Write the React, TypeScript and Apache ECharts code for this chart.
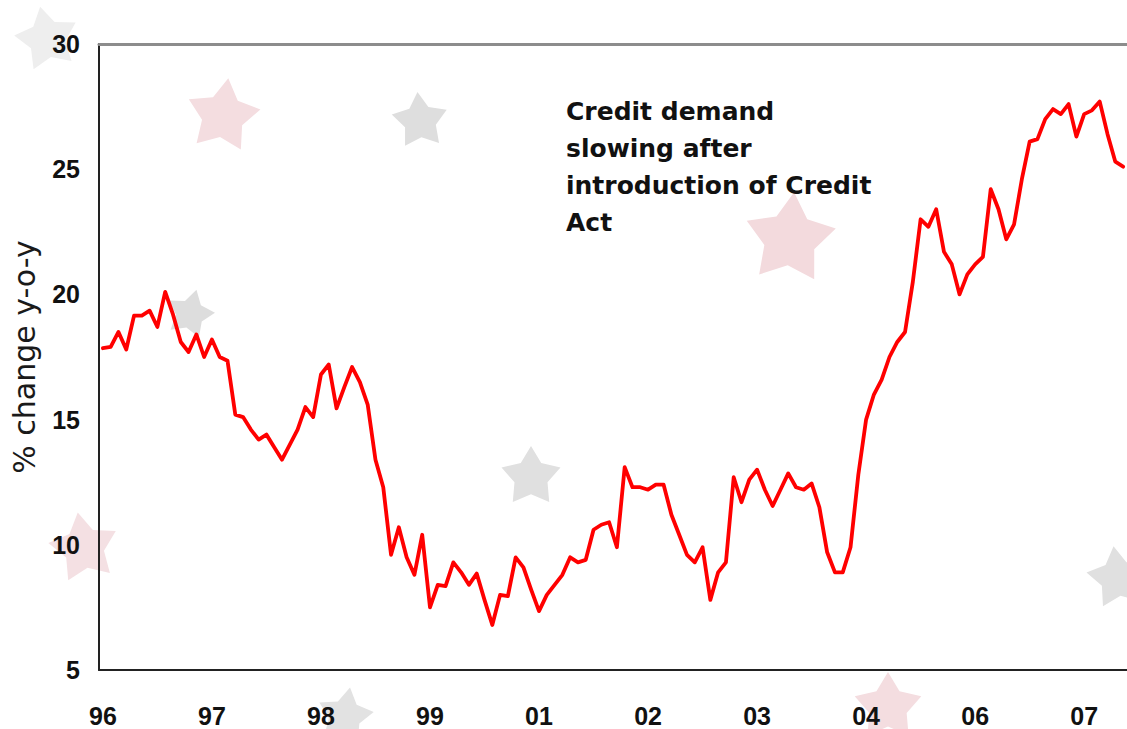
import React, { useEffect, useRef } from "react";
import * as echarts from "echarts";

// Tick labels shown along the x axis (one every 14 monthly observations)
const tickLabels = ["96", "97", "98", "99", "01", "02", "03", "04", "06", "07"];
const monthsPerTick = 14;

// Y axis ticks
const yMin = 5;
const yMax = 30;
const yStep = 5;

const creditGrowth = [
  17.85, 17.9, 18.5, 17.8, 19.15, 19.15, 19.35, 18.7, 20.1, 19.2,
  18.1, 17.7, 18.4, 17.5, 18.2, 17.5, 17.35, 15.2, 15.1, 14.6,
  14.2, 14.4, 13.9, 13.4, 14.0, 14.6, 15.5, 15.1, 16.8, 17.2,
  15.45, 16.3, 17.1, 16.5, 15.6, 13.4, 12.3, 9.6, 10.7, 9.5,
  8.8, 10.4, 7.5, 8.4, 8.35, 9.3, 8.9, 8.4, 8.85, 7.8,
  6.8, 8.0, 7.95, 9.5, 9.1, 8.2, 7.35, 8.0, 8.4, 8.8,
  9.5, 9.3, 9.4, 10.6, 10.8, 10.9, 9.9, 13.1, 12.3, 12.3,
  12.2, 12.4, 12.4, 11.2, 10.4, 9.6, 9.3, 9.9, 7.8, 8.9,
  9.3, 12.7, 11.7, 12.6, 13.0, 12.2, 11.55, 12.2, 12.85, 12.3,
  12.2, 12.45, 11.5, 9.7, 8.9, 8.9, 9.9, 12.8, 15.0, 16.0,
  16.6, 17.5, 18.1, 18.5, 20.5, 23.0, 22.7, 23.4, 21.7, 21.2,
  20.0, 20.8, 21.2, 21.5, 24.2, 23.4, 22.2, 22.8, 24.6, 26.1,
  26.2, 27.0, 27.4, 27.2, 27.6, 26.3, 27.2, 27.35, 27.7, 26.4,
  25.3, 25.1,
];

const annotation = "Credit demand\nslowing after\nintroduction of Credit\nAct";
const yAxisTitle = "% change y-o-y";

// Decorative background stars: [cx, cy, radius, rotation, colour]
const stars: [number, number, number, number, string][] = [
  [47, 39, 33, -12, "#eeeeee"],
  [223, 116, 38, 8, "#f4dde0"],
  [420, 121, 29, -5, "#dedede"],
  [790, 239, 47, 5, "#f3dadd"],
  [190, 314, 25, 15, "#dddddd"],
  [531, 477, 31, 0, "#e0e0e0"],
  [84, 548, 36, -10, "#f4e0e3"],
  [1118, 578, 32, -8, "#e0e0e0"],
  [345, 716, 29, 10, "#e2e2e2"],
  [888, 707, 35, 0, "#f4dde0"],
];

function starPoints(cx: number, cy: number, r: number, rot: number) {
  const pts: number[][] = [];
  for (let k = 0; k < 10; k++) {
    const rr = k % 2 === 0 ? r : r * 0.56;
    const a = ((rot - 90 + k * 36) * Math.PI) / 180;
    pts.push([cx + rr * Math.cos(a), cy + rr * Math.sin(a)]);
  }
  return pts;
}

export default function App() {
  const ref = useRef<HTMLDivElement>(null);

  useEffect(() => {
    if (!ref.current) return;
    const chart = echarts.init(ref.current, undefined, { renderer: "svg" });
    const categories = creditGrowth.map((_, i) => String(i));

    const option: any = {
      animation: false,
      backgroundColor: "#ffffff",
      grid: { left: 99, right: 0, top: 44, bottom: 59, containLabel: false },
      xAxis: [
        {
          type: "category",
          data: categories,
          boundaryGap: true,
          axisLine: { show: true, lineStyle: { color: "#222222", width: 2 } },
          axisTick: { show: false },
          axisLabel: {
            interval: monthsPerTick - 1,
            margin: 33,
            color: "#111111",
            fontFamily: "Liberation Sans, Arial, sans-serif",
            fontSize: 25,
            fontWeight: "bold",
            formatter: (_v: string, idx: number) =>
              idx % monthsPerTick === 0 ? tickLabels[idx / monthsPerTick] ?? "" : "",
          },
          splitLine: { show: false },
        },
        {
          type: "category",
          data: categories,
          position: "top",
          axisLine: { show: true, lineStyle: { color: "#8c8c8c", width: 3 } },
          axisTick: { show: false },
          axisLabel: { show: false },
          splitLine: { show: false },
        },
      ],
      yAxis: {
        type: "value",
        min: yMin,
        max: yMax,
        interval: yStep,
        name: yAxisTitle,
        nameLocation: "middle",
        nameGap: 60,
        nameTextStyle: {
          fontFamily: "DejaVu Sans, sans-serif",
          fontSize: 30,
          color: "#1a1a1a",
        },
        axisLine: { show: true, lineStyle: { color: "#222222", width: 2 } },
        axisTick: { show: false },
        axisLabel: {
          margin: 19,
          color: "#111111",
          fontFamily: "Liberation Sans, Arial, sans-serif",
          fontSize: 25,
          fontWeight: "bold",
        },
        splitLine: { show: false },
      },
      graphic: {
        elements: [
          ...stars.map(([cx, cy, r, rot, fill]) => ({
            type: "polygon",
            z: -10,
            silent: true,
            shape: { points: starPoints(cx, cy, r, rot) },
            style: { fill },
          })),
          {
            type: "text",
            z: 100,
            x: 566,
            y: 93,
            silent: true,
            style: {
              text: annotation,
              fontFamily: "DejaVu Sans, sans-serif",
              fontWeight: "bold",
              fontSize: 25,
              lineHeight: 37,
              fill: "#111111",
              verticalAlign: "top",
            },
          },
        ],
      },
      series: [
        {
          type: "line",
          data: creditGrowth,
          showSymbol: false,
          symbol: "none",
          z: 5,
          lineStyle: { color: "#ff0000", width: 3.8, join: "round", cap: "round" },
        },
      ],
    };

    chart.setOption(option);
    return () => chart.dispose();
  }, []);

  return (
    <div
      ref={ref}
      style={{ position: "fixed", left: 0, top: 0, width: 1127, height: 729 }}
    />
  );
}
